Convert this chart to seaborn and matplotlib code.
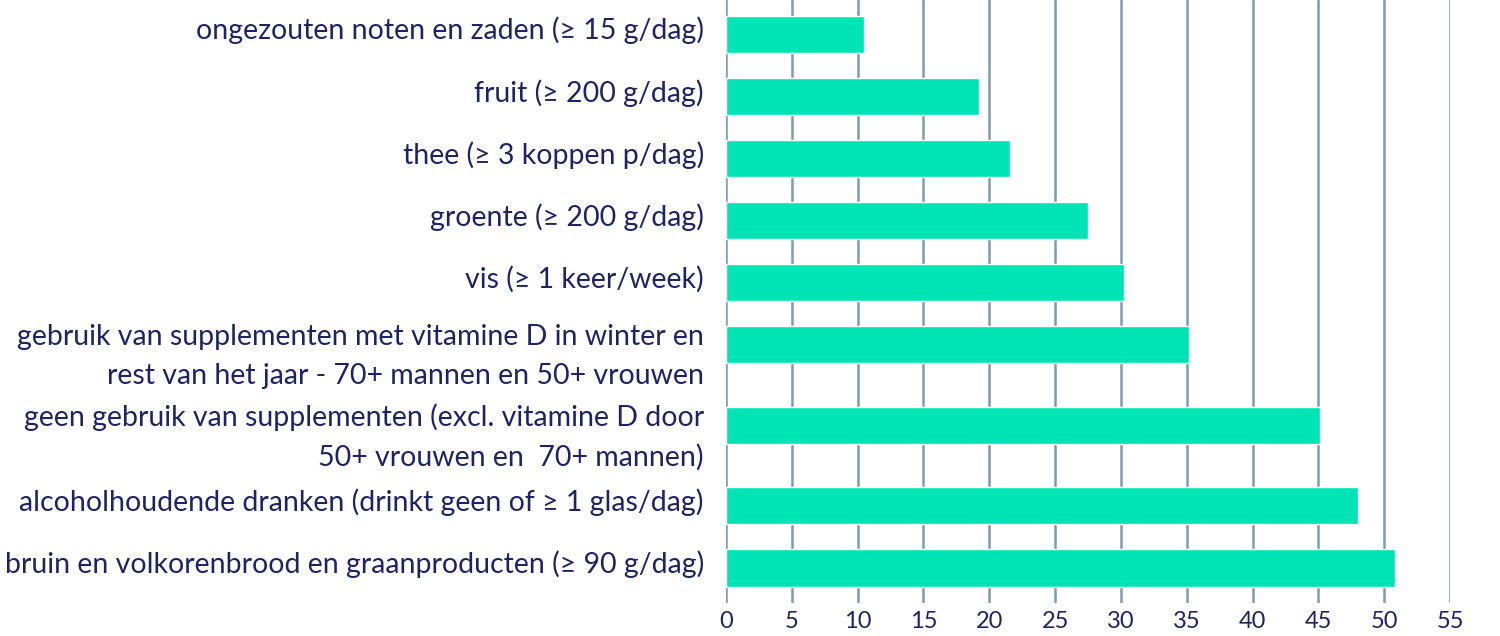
import matplotlib
matplotlib.use("Agg")
import matplotlib.pyplot as plt
import matplotlib.transforms as mtransforms
import numpy as np
import pandas as pd
import seaborn as sns

categories = [
    "ongezouten noten en zaden (≥ 15 g/dag)",
    "fruit (≥ 200 g/dag)",
    "thee (≥ 3 koppen p/dag)",
    "groente (≥ 200 g/dag)",
    "vis (≥ 1 keer/week)",
    "gebruik van supplementen met vitamine D in winter en\nrest van het jaar - 70+ mannen en 50+ vrouwen",
    "geen gebruik van supplementen (excl. vitamine D door\n50+ vrouwen en  70+ mannen)",
    "alcoholhoudende dranken (drinkt geen of ≥ 1 glas/dag)",
    "bruin en volkorenbrood en graanproducten (≥ 90 g/dag)",
]
values = [10.5, 19.2, 21.6, 27.5, 30.2, 35.2, 45.1, 48.0, 50.8]
x_ticks = [0, 5, 10, 15, 20, 25, 30, 35, 40, 45, 50, 55]

BAR = "#00E3B4"
NAVY = "#1E2463"
GRID = "#7F9CB1"

sns.set_theme(style="white")
plt.rcParams["font.family"] = ["Lato", "DejaVu Sans"]

# vertical slot positions: two-line labels take extra room
lines = [c.count("\n") + 1 for c in categories]
pos = [0.0]
for n in lines[:-1]:
    pos.append(pos[-1] + 1 + 0.3 * (n - 1))

df = pd.DataFrame({"cat": categories, "value": values, "pos": pos})

fig = plt.figure(figsize=(15, 6.36), dpi=100)
ax = fig.add_axes([0.484, 1 - 603 / 636, 0.9667 - 0.484, 603 / 636])

sns.barplot(data=df, x="value", y="pos", orient="h", native_scale=True,
            color=BAR, saturation=1, width=0.6, ax=ax, zorder=3)

ax.set_xlim(0, 55)
ax.set_ylim(pos[-1] + 0.565, -0.55)
ax.set_xticks(x_ticks)
ax.set_xticklabels([str(t) for t in x_ticks])
ax.set_yticks(pos)
ax.set_yticklabels(categories, linespacing=1.6)
ax.set_xlabel("")
ax.set_ylabel("")
for s in ax.spines.values():
    s.set_visible(False)
ax.grid(axis="x", color=GRID, linewidth=1.8, zorder=0)
ax.grid(axis="y", visible=False)
ax.set_axisbelow(True)
ax.tick_params(axis="x", length=0, pad=6, labelsize=17, labelcolor=NAVY)
ax.tick_params(axis="y", length=0, pad=16, labelsize=20.5, labelcolor=NAVY)

for lab, n in zip(ax.get_yticklabels(), lines):
    dy = -3 if n > 1 else 6
    off = mtransforms.ScaledTranslation(0, dy / 100, fig.dpi_scale_trans)
    lab.set_transform(lab.get_transform() + off)

fig.savefig("out.png", dpi=100)
